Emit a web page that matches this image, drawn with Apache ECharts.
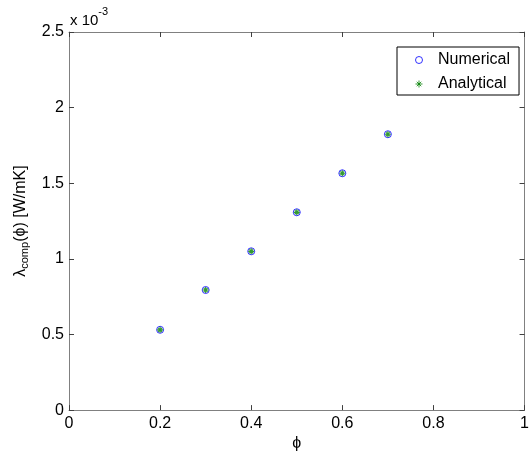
<!DOCTYPE html>
<html>
<head>
<meta charset="utf-8">
<script src="https://cdn.jsdelivr.net/npm/echarts@6/dist/echarts.min.js"></script>
<style>
html, body { margin: 0; padding: 0; background: #fff; }
#main { width: 532px; height: 457px; }
</style>
</head>
<body>
<div id="main"></div>
<script>
// phi values and conductivity (in units of 1e-3 W/mK)
var phi = [0.2, 0.3, 0.4, 0.5, 0.6, 0.7];
var numerical = [0.531, 0.794, 1.050, 1.308, 1.566, 1.824];
var analytical = [0.531, 0.794, 1.050, 1.308, 1.566, 1.824];
var xTicks = [0, 0.2, 0.4, 0.6, 0.8, 1];
var yTicks = [0, 0.5, 1, 1.5, 2, 2.5];

var font = 'Liberation Sans, Arial, sans-serif';
var boxColor = '#808080';
var tickColor = '#404040';

function pairs(xs, ys) {
	var out = [];
	for (var i = 0; i < xs.length; i++) out.push([xs[i], ys[i]]);
	return out;
}

// asterisk marker
var starPath = 'path://M0 5 L10 5 M5 0 L5 10 M1.8 1.8 L8.2 8.2 M1.8 8.2 L8.2 1.8';

// box axis (top / right), no labels
function boxAxis(pos, max, interval) {
	return {
		type: 'value',
		position: pos,
		min: 0,
		max: max,
		interval: interval,
		axisLine: { show: true, onZero: false, lineStyle: { color: boxColor } },
		axisTick: { show: true, inside: true, length: 5, lineStyle: { color: tickColor } },
		axisLabel: { show: false },
		splitLine: { show: false }
	};
}

var chart = echarts.init(document.getElementById('main'));

var option = {
	backgroundColor: '#fff',
	animation: false,
	grid: {
		left: 69,
		top: 32,
		right: 4,
		bottom: 44,
		containLabel: false
	},
	legend: {
		orient: 'vertical',
		left: 397,
		top: 47,
		padding: [5, 9, 3, 18],
		itemGap: 8,
		itemWidth: 28,
		itemHeight: 7,
		borderColor: '#000',
		borderWidth: 1,
		backgroundColor: '#fff',
		itemStyle: { borderWidth: 1 },
		textStyle: { fontFamily: font, fontSize: 16, lineHeight: 16, color: '#000' },
		data: ['Numerical', 'Analytical']
	},
	xAxis: [{
		type: 'value',
		min: 0,
		max: 1,
		interval: 0.2,
		name: 'ϕ',
		nameLocation: 'middle',
		nameGap: 25,
		nameTextStyle: { fontFamily: font, fontSize: 16, color: '#000' },
		axisLine: { show: true, onZero: false, lineStyle: { color: boxColor } },
		axisTick: { show: true, inside: true, length: 5, lineStyle: { color: tickColor } },
		axisLabel: {
			fontFamily: font, fontSize: 16, color: '#000', margin: 5,
			formatter: function (v) { return xTicks.indexOf(v) >= 0 ? String(v) : ''; }
		},
		splitLine: { show: false }
	}, boxAxis('top', 1, 0.2)],
	yAxis: [{
		type: 'value',
		min: 0,
		max: 2.5,
		interval: 0.5,
		name: '{n|λ}{s|comp}{n|(ϕ) [W/mK]}',
		nameLocation: 'middle',
		nameGap: 38,
		nameTextStyle: {
			fontFamily: font, fontSize: 16, color: '#000',
			rich: {
				n: { fontFamily: font, fontSize: 16, color: '#000', lineHeight: 20, verticalAlign: 'middle' },
				s: { fontFamily: font, fontSize: 11, color: '#000', lineHeight: 20, verticalAlign: 'bottom', padding: [7, 0, 0, 0] }
			}
		},
		axisLine: { show: true, onZero: false, lineStyle: { color: boxColor } },
		axisTick: { show: true, inside: true, length: 5, lineStyle: { color: tickColor } },
		axisLabel: {
			fontFamily: font, fontSize: 16, color: '#000', margin: 5,
			formatter: function (v) { return yTicks.indexOf(v) >= 0 ? String(v) : ''; }
		},
		splitLine: { show: false }
	}, boxAxis('right', 2.5, 0.5)],
	graphic: [{
		type: 'text',
		left: 70,
		top: 6,
		style: {
			text: '{b|x 10}{e|-3}',
			fontFamily: font,
			fontSize: 15,
			fill: '#000',
			rich: {
				b: { fontFamily: font, fontSize: 15, fill: '#000', lineHeight: 22, verticalAlign: 'bottom' },
				e: { fontFamily: font, fontSize: 11, fill: '#000', lineHeight: 22, verticalAlign: 'top' }
			}
		}
	}],
	series: [{
		name: 'Numerical',
		type: 'scatter',
		symbol: 'circle',
		symbolSize: 7,
		itemStyle: { color: 'rgba(0,0,0,0)', borderColor: '#0000ff', borderWidth: 1 },
		data: pairs(phi, numerical),
		z: 2
	}, {
		name: 'Analytical',
		type: 'scatter',
		symbol: starPath,
		symbolSize: 6,
		itemStyle: { color: 'rgba(0,0,0,0)', borderColor: '#008000', borderWidth: 1.2 },
		data: pairs(phi, analytical),
		z: 3
	}]
};

chart.setOption(option);
</script>
</body>
</html>
